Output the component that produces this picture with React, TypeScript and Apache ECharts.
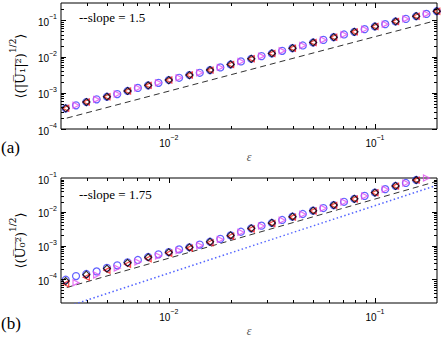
import React, { useEffect, useRef } from "react";
import * as echarts from "echarts";

// epsilon values (log-spaced sample points)
const eps = [
  0.003162, 0.003548, 0.003981, 0.004467, 0.005012, 0.005623, 0.00631, 0.007079, 0.007943, 0.008913,
  0.01, 0.01122, 0.01259, 0.01413, 0.01585, 0.01778, 0.01995, 0.02239, 0.02512, 0.02818,
  0.03162, 0.03548, 0.03981, 0.04467, 0.05012, 0.05623, 0.0631, 0.07079, 0.07943, 0.08913,
  0.1, 0.1122, 0.1259, 0.1413, 0.1585, 0.1778, 0.1995,
];

// panel (a): <(|U1|^2)^(1/2)>
const aMain = [
  3.72e-4, 4.5e-4, 5.55e-4, 6.58e-4, 7.76e-4, 9.2e-4, 1.12e-3, 1.36e-3, 1.6e-3, 1.88e-3,
  2.24e-3, 2.59e-3, 3.08e-3, 3.56e-3, 4.22e-3, 5.01e-3, 6.05e-3, 7.33e-3, 8.65e-3, 1.026e-2,
  1.216e-2, 1.435e-2, 1.7e-2, 2.02e-2, 2.44e-2, 2.88e-2, 3.42e-2, 4.06e-2, 4.79e-2, 5.69e-2,
  6.75e-2, 7.82e-2, 9.27e-2, 0.1094, 0.1297, 0.15, 0.178,
];
const aSlopeX = [0.0032, 0.2];
const aSlopeY = [2.0e-4, 0.1];

// panel (b): <(U0^2)^(1/2)>
const bMain = [
  8.9e-5, 1.1e-4, 1.38e-4, 1.7e-4, 2.09e-4, 2.51e-4, 3.09e-4, 3.72e-4, 4.51e-4, 5.41e-4,
  6.32e-4, 7.59e-4, 8.86e-4, 1.06e-3, 1.29e-3, 1.58e-3, 2.0e-3, 2.57e-3, 3.24e-3, 3.89e-3,
  4.68e-3, 5.74e-3, 7.18e-3, 8.61e-3, 1.08e-2, 1.29e-2, 1.58e-2, 1.98e-2, 2.42e-2, 2.96e-2,
  3.71e-2, 4.67e-2, 5.82e-2, 7.13e-2, 8.73e-2,
];
const bCircle = [
  9.8e-5, 1.25e-4, 1.45e-4, 1.72e-4, 2.2e-4, 2.6e-4, 3.2e-4, 3.75e-4, 4.6e-4, 5.5e-4,
  6.4e-4, 7.7e-4, 8.9e-4, 1.07e-3, 1.3e-3, 1.58e-3, 2.0e-3, 2.57e-3, 3.24e-3, 3.89e-3,
  4.68e-3, 5.74e-3, 7.18e-3, 8.61e-3, 1.08e-2, 1.29e-2, 1.58e-2, 1.98e-2, 2.42e-2, 2.96e-2,
  3.71e-2, 4.67e-2, 5.82e-2, 7.13e-2, 8.73e-2,
];
const bRed = [
  7.4e-5, 8.5e-5, 1.15e-4, 1.4e-4, 1.85e-4, 2.19e-4, 2.8e-4, 3.21e-4, 4.1e-4, 4.9e-4,
  5.9e-4, 7.1e-4, 8.4e-4, 1.0e-3, 1.22e-3, 1.5e-3, 1.9e-3, 2.45e-3, 3.1e-3, 3.75e-3,
  4.5e-3, 5.55e-3, 6.95e-3, 8.4e-3, 1.05e-2, 1.26e-2, 1.55e-2, 1.95e-2, 2.38e-2, 2.92e-2,
  3.66e-2, 4.6e-2, 5.75e-2, 7.05e-2, 8.65e-2,
];
const bMagenta = [
  null, 8.0e-5, null, 1.35e-4, null, 2.15e-4, null, 3.25e-4, null, 4.95e-4,
  null, 7.2e-4, null, 1.0e-3, null, 1.52e-3, null, 2.48e-3, null, 3.8e-3,
  null, 5.6e-3, null, 8.5e-3, null, 1.27e-2, null, 1.96e-2, null, 2.94e-2,
  null, 4.62e-2, null, 7.1e-2, null, 0.1,
];
const bSlopeX = [0.0032, 0.2];
const bSlopeY = [5.75e-5, 0.08];
const bDotX = [0.0032, 0.2];
const bDotY = [1.56e-5, 0.061];

// tick values
const xMajorTicks = [0.01, 0.1];
const xMinorTicks = [0.004, 0.005, 0.006, 0.007, 0.008, 0.009, 0.02, 0.03, 0.04, 0.05, 0.06, 0.07, 0.08, 0.09];
const aYMajorTicks = [1e-4, 1e-3, 1e-2, 1e-1];
const aYMinorTicks = [
  2e-4, 3e-4, 4e-4, 5e-4, 6e-4, 7e-4, 8e-4, 9e-4,
  2e-3, 3e-3, 4e-3, 5e-3, 6e-3, 7e-3, 8e-3, 9e-3,
  2e-2, 3e-2, 4e-2, 5e-2, 6e-2, 7e-2, 8e-2, 9e-2, 0.2,
];
const bYMajorTicks = [1e-4, 1e-3, 1e-2];
const bYMinorTicks = [
  3e-5, 4e-5, 5e-5, 6e-5, 7e-5, 8e-5, 9e-5,
  2e-4, 3e-4, 4e-4, 5e-4, 6e-4, 7e-4, 8e-4, 9e-4,
  2e-3, 3e-3, 4e-3, 5e-3, 6e-3, 7e-3, 8e-3, 9e-3,
  2e-2, 3e-2, 4e-2, 5e-2, 6e-2, 7e-2, 8e-2, 9e-2,
];

const X_MIN = 0.003;
const X_MAX = 0.2;
const A_Y_MIN = 1e-4;
const A_Y_MAX = 0.3;
const B_Y_MIN = 2e-5;
const B_Y_MAX = 0.1;

const BLUE = "#3a3aff";
const RED = "#ff1a1a";
const MAGENTA = "#e050f0";

const pairs = (xs: number[], ys: (number | null)[]) =>
  ys.map((y, i) => (y == null ? null : [xs[i], y])).filter((p) => p !== null) as number[][];
const evenOnly = (ys: number[]) => ys.map((y, i) => (i % 2 === 0 ? y : null));
const oddOnly = (ys: number[]) => ys.map((y, i) => (i % 2 === 1 ? y : null));

const powLabel = (v: number) => {
  const e = Math.round(Math.log10(v));
  return `{b|10}{e|${e < 0 ? "\u2212" : ""}${Math.abs(e)}}`;
};
const labelRich = {
  b: { fontSize: 10, fontFamily: "Liberation Sans", color: "#000", lineHeight: 14, verticalAlign: "bottom" },
  e: { fontSize: 7, fontFamily: "Liberation Sans", color: "#000", lineHeight: 14, verticalAlign: "top" },
};

function xTickSeries(g: number, yMin: number) {
  const data = [
    ...xMajorTicks.map((v) => [v, yMin, 1]),
    ...xMinorTicks.map((v) => [v, yMin, 0]),
  ];
  return {
    type: "custom",
    xAxisIndex: g,
    yAxisIndex: g,
    silent: true,
    clip: false,
    z: 10,
    data,
    renderItem: (params: any, api: any) => {
      const cs = params.coordSys;
      const p = api.coord([api.value(0), api.value(1)]);
      const len = api.value(2) ? 5 : 3;
      const x = Math.round(p[0]) + 0.5;
      return {
        type: "group",
        children: [
          { type: "line", shape: { x1: x, y1: cs.y + cs.height, x2: x, y2: cs.y + cs.height - len }, style: { stroke: "#000", lineWidth: 1 } },
          { type: "line", shape: { x1: x, y1: cs.y, x2: x, y2: cs.y + len }, style: { stroke: "#000", lineWidth: 1 } },
        ],
      };
    },
  };
}

function yTickSeries(g: number, major: number[], minor: number[]) {
  const data = [...major.map((v) => [X_MIN, v, 1]), ...minor.map((v) => [X_MIN, v, 0])];
  return {
    type: "custom",
    xAxisIndex: g,
    yAxisIndex: g,
    silent: true,
    clip: false,
    z: 10,
    data,
    renderItem: (params: any, api: any) => {
      const cs = params.coordSys;
      const p = api.coord([api.value(0), api.value(1)]);
      const len = api.value(2) ? 5 : 3;
      const y = Math.round(p[1]) + 0.5;
      return {
        type: "group",
        children: [
          { type: "line", shape: { x1: cs.x, y1: y, x2: cs.x + len, y2: y }, style: { stroke: "#000", lineWidth: 1 } },
          { type: "line", shape: { x1: cs.x + cs.width, y1: y, x2: cs.x + cs.width - len, y2: y }, style: { stroke: "#000", lineWidth: 1 } },
        ],
      };
    },
  };
}

const hollow = (c: string, w: number) => ({ color: "rgba(0,0,0,0)", borderColor: c, borderWidth: w });

function scatter(g: number, data: number[][], symbol: string, size: number, c: string, rotate = 0, z = 3, w = 1.2) {
  return {
    type: "scatter",
    xAxisIndex: g,
    yAxisIndex: g,
    data,
    symbol,
    symbolSize: size,
    symbolRotate: rotate,
    itemStyle: hollow(c, w),
    silent: true,
    z,
  };
}

function refLine(g: number, xs: number[], ys: number[], color: string, dash: number[], width: number) {
  return {
    type: "line",
    xAxisIndex: g,
    yAxisIndex: g,
    data: pairs(xs, ys),
    symbol: "none",
    silent: true,
    lineStyle: { color, type: dash, width },
    z: 2,
  };
}

function xAxis(g: number) {
  return {
    type: "log",
    logBase: 10,
    gridIndex: g,
    min: X_MIN,
    max: X_MAX,
    axisLine: { show: false },
    axisTick: { show: false },
    splitLine: { show: false },
    axisLabel: { formatter: powLabel, rich: labelRich, margin: 5, showMinLabel: false, showMaxLabel: false },
    name: "\u03b5",
    nameLocation: "middle",
    nameGap: 22,
    nameTextStyle: { fontFamily: "Liberation Serif", fontStyle: "italic", fontSize: 12, color: "#555" },
  };
}

function yAxis(g: number, min: number, max: number, showMin: boolean, showMax: boolean, name: string) {
  return {
    type: "log",
    logBase: 10,
    gridIndex: g,
    min,
    max,
    axisLine: { show: false },
    axisTick: { show: false },
    splitLine: { show: false },
    axisLabel: { formatter: powLabel, rich: labelRich, margin: 4, showMinLabel: showMin, showMaxLabel: showMax },
    name,
    nameLocation: "middle",
    nameRotate: 90,
    nameGap: 34,
    nameTextStyle: {
      fontFamily: "Liberation Serif",
      fontSize: 13,
      color: "#000",
      rich: {
        m: { fontFamily: "DejaVu Serif", fontSize: 13, lineHeight: 19, verticalAlign: "bottom", color: "#000" },
        s: { fontFamily: "DejaVu Serif", fontSize: 9, lineHeight: 19, verticalAlign: "top", color: "#000" },
      },
    },
  };
}

const OL = "\u0305";
const aYName = `{m|\u27e8(|${OL}U${OL}\u2081${OL}|${OL}\u00b2${OL})}{s|1/2}{m|\u27e9}`;
const bYName = `{m|\u27e8(U${OL}\u2080${OL}\u00b2${OL})}{s|1/2}{m|\u27e9}`;

export default function App() {
  const ref = useRef<HTMLDivElement>(null);
  useEffect(() => {
    if (!ref.current) return;
    const chart = echarts.init(ref.current, null, { renderer: "svg" });
    const grids = [
      { left: 54, top: 3, width: 383, height: 126 },
      { left: 54, top: 178, width: 383, height: 127 },
    ].map((g) => ({ ...g, show: true, borderColor: "#000", borderWidth: 1, backgroundColor: "transparent" }));

    chart.setOption({
      animation: false,
      backgroundColor: "#fff",
      grid: grids,
      xAxis: [xAxis(0), xAxis(1)],
      yAxis: [
        yAxis(0, A_Y_MIN, A_Y_MAX, true, false, aYName),
        yAxis(1, B_Y_MIN, B_Y_MAX, false, true, bYName),
      ],
      graphic: [
        { type: "text", left: 79, top: 11, style: { text: "--slope = 1.5", font: "13px 'Liberation Serif'", fill: "#000" } },
        { type: "text", left: 79, top: 188, style: { text: "--slope = 1.75", font: "13px 'Liberation Serif'", fill: "#000" } },
        { type: "text", left: 1, top: 139, style: { text: "(a)", font: "17px 'Liberation Serif'", fill: "#000" } },
        { type: "text", left: 1, top: 315, style: { text: "(b)", font: "17px 'Liberation Serif'", fill: "#000" } },
      ],
      series: [
        refLine(0, aSlopeX, aSlopeY, "#333", [6, 4], 1),
        scatter(0, pairs(eps, aMain), "circle", 7, BLUE, 0, 3),
        scatter(0, pairs(eps, evenOnly(aMain)), "triangle", 6, RED, 90, 4),
        scatter(0, pairs(eps, oddOnly(aMain)), "triangle", 6, MAGENTA, -90, 4),
        scatter(0, pairs(eps, evenOnly(aMain)), "diamond", 7, "#000", 0, 5),

        refLine(1, bSlopeX, bSlopeY, "#333", [6, 4], 1),
        refLine(1, bDotX, bDotY, "#5566ff", [1.5, 2.5], 1.5),
        scatter(1, pairs(eps, bCircle), "circle", 7, BLUE, 0, 3),
        scatter(1, pairs(eps, evenOnly(bRed)), "triangle", 6, RED, 90, 4),
        scatter(1, pairs(eps, bMagenta), "triangle", 6, MAGENTA, -90, 4),
        scatter(1, pairs(eps, evenOnly(bMain)), "diamond", 7, "#000", 0, 5),

        xTickSeries(0, A_Y_MIN),
        yTickSeries(0, aYMajorTicks, aYMinorTicks),
        xTickSeries(1, B_Y_MIN),
        yTickSeries(1, bYMajorTicks, bYMinorTicks),
      ],
    });
    return () => chart.dispose();
  }, []);
  return <div ref={ref} style={{ position: "fixed", left: 0, top: 0, width: 443, height: 338 }} />;
}
